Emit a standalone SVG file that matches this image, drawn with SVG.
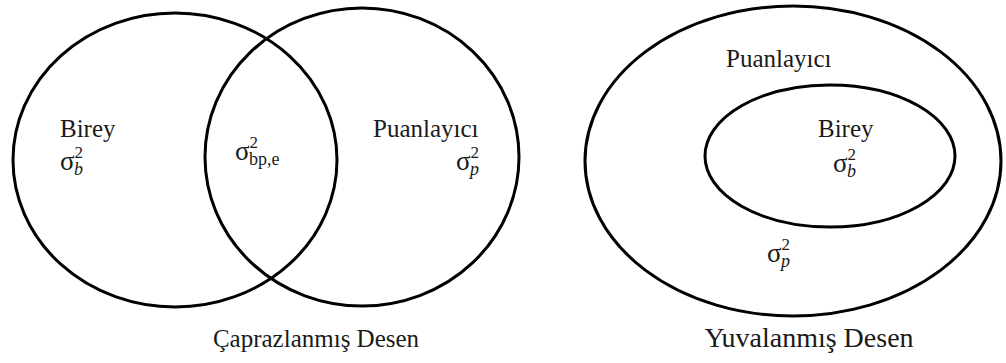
<svg xmlns="http://www.w3.org/2000/svg" width="1006" height="363" viewBox="0 0 1006 363">
<style>
.shape{fill:none;stroke:#000;stroke-width:3}
text{font-family:"Liberation Serif","Times New Roman",serif;fill:#1a1a1a}
.lbl{font-size:25px}
.sig{font-size:27px}
.sup{font-size:17px}
.sub{font-size:18px;font-style:italic}
.subr{font-size:18px}
.cap{font-size:25px}
.cap2{font-size:28px}
</style>
<rect width="1006" height="363" fill="#fff"/>
<g id="crossed">
  <g id="birey-left">
    <ellipse class="shape" cx="175" cy="160" rx="162" ry="147"/>
    <text class="lbl" x="60" y="137">Birey</text>
    <text class="sig" x="60" y="170">σ<tspan class="sup" dy="-12">2</tspan><tspan class="sub" dx="-9" dy="17">b</tspan></text>
  </g>
  <g id="puanlayici-left">
    <ellipse class="shape" cx="362" cy="157" rx="157" ry="149"/>
    <text class="lbl" x="373" y="137">Puanlayıcı</text>
    <text class="sig" x="456" y="170">σ<tspan class="sup" dy="-12">2</tspan><tspan class="sub" dx="-9" dy="17">p</tspan></text>
  </g>
  <g id="interaction">
    <text class="sig" x="235" y="160">σ<tspan class="sup" dy="-12">2</tspan><tspan class="subr" dx="-9" dy="17">bp,e</tspan></text>
  </g>
  <text class="cap" x="316" y="347" text-anchor="middle">Çaprazlanmış Desen</text>
</g>
<g id="nested">
  <g id="puanlayici-right">
    <ellipse class="shape" cx="793" cy="161" rx="208" ry="155"/>
    <text class="lbl" x="726" y="67">Puanlayıcı</text>
    <text class="sig" x="767" y="262">σ<tspan class="sup" dy="-12">2</tspan><tspan class="sub" dx="-9" dy="17">p</tspan></text>
  </g>
  <g id="birey-right">
    <ellipse class="shape" cx="830" cy="156" rx="125" ry="71"/>
    <text class="lbl" x="818" y="137">Birey</text>
    <text class="sig" x="833" y="172">σ<tspan class="sup" dy="-12">2</tspan><tspan class="sub" dx="-9" dy="17">b</tspan></text>
  </g>
  <text class="cap2" x="809" y="347" text-anchor="middle">Yuvalanmış Desen</text>
</g>
</svg>
